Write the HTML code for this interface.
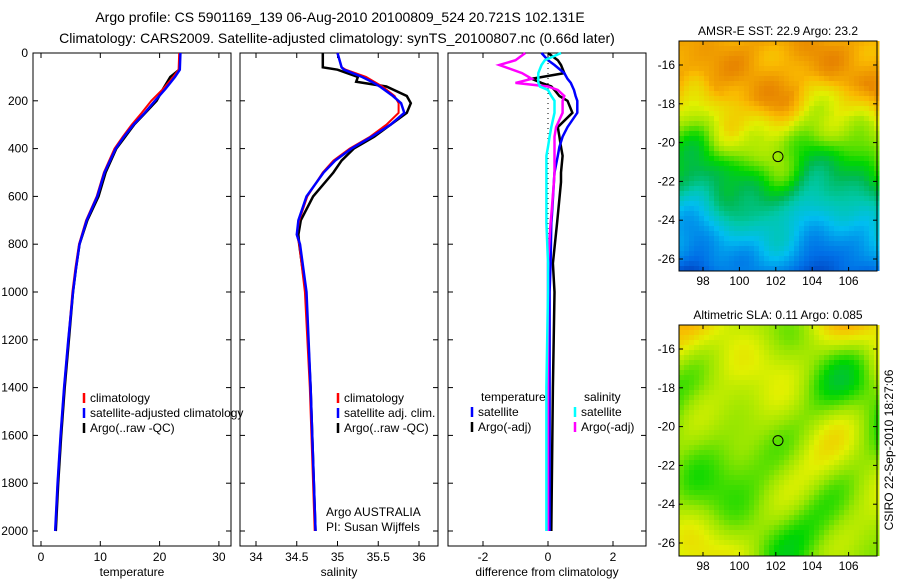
<!DOCTYPE html>
<html><head><meta charset="utf-8"><style>
body{margin:0;background:#fff;width:900px;height:580px;overflow:hidden;font-family:"Liberation Sans",sans-serif}
svg text{font-family:"Liberation Sans",sans-serif;font-size:12px;fill:#000}
</style></head><body>
<svg id="s" width="900" height="580">
<text x="340" y="22" text-anchor="middle" style="font-size:14px">Argo profile: CS 5901169_139 06-Aug-2010 20100809_524 20.721S 102.131E</text>
<text x="337" y="43" text-anchor="middle" style="font-size:14px">Climatology: CARS2009. Satellite-adjusted climatology: synTS_20100807.nc (0.66d later)</text>
<text x="778" y="35" text-anchor="middle">AMSR-E SST: 22.9  Argo: 23.2</text>
<text x="778" y="319" text-anchor="middle">Altimetric SLA: 0.11  Argo: 0.085</text>
<text transform="translate(893,450) rotate(-90)" text-anchor="middle">CSIRO 22-Sep-2010 18:27:06</text>
<g id="g"></g>
</svg>
<script>
const depthT=[0,70,100,150,200,250,300,350,400,500,600,700,800,900,1000,1200,1400,1600,1800,2000];
const tempClim=[23.3,23.2,22.3,20.6,18.6,17,15.3,13.8,12.4,10.6,9.4,7.6,6.4,5.8,5.3,4.6,3.9,3.3,2.8,2.4];
const tempSat=[23.5,23.4,22.6,21,19.2,17.5,15.6,14,12.6,10.7,9.5,7.7,6.5,5.9,5.4,4.6,3.9,3.3,2.8,2.4];
const tempArgo=[23.4,23.3,21.8,20.6,19.5,17.6,15.7,14.2,12.7,10.9,9.7,7.8,6.5,5.9,5.4,4.7,4.0,3.4,2.9,2.5];
const depthS=[0,60,70,100,120,140,180,210,250,300,350,400,450,500,600,700,760,800,1000,1400,2000];
const salClim=[35.0,35.05,35.1,35.35,35.45,35.55,35.7,35.75,35.75,35.6,35.4,35.15,34.95,34.82,34.63,34.53,34.5,34.53,34.6,34.66,34.72];
const salSat=[35.0,35.05,35.08,35.3,35.42,35.52,35.68,35.78,35.82,35.65,35.42,35.17,34.97,34.83,34.62,34.52,34.5,34.54,34.62,34.67,34.73];
const salArgo=[34.82,34.82,35.0,35.25,35.23,35.6,35.85,35.9,35.85,35.65,35.45,35.2,35.05,34.95,34.7,34.55,34.52,34.53,34.61,34.67,34.73];
const dDepth=[0,30,50,84,108,125,140,155,180,200,250,310,350,393,430,500,540,680,710,880,1000,1400,2000];
const dTempSat=[-0.2,0.0,0.2,0.5,0.6,0.7,0.75,0.8,0.85,0.9,0.9,0.6,0.45,0.35,0.3,0.2,0.18,0.12,0.1,0.08,0.05,0.05,0.05];
const dTempArgo=[0.0,0.3,0.4,0.5,-0.5,-0.2,0.1,0.2,0.35,0.6,0.75,0.3,0.35,0.4,0.45,0.4,0.4,0.3,0.28,0.15,0.2,0.15,0.1];
const dSalArgo=[-0.7,-1.0,-1.5,-0.8,-0.5,-1.0,0.0,0.3,0.5,0.45,0.45,0.25,0.2,0.2,0.2,0.2,0.18,0.1,0.08,0.0,0.0,0.0,0.0];
const dSalSat=[0.4,-0.1,-0.2,-0.3,-0.3,-0.3,-0.25,0.0,0.1,0.2,0.2,0.1,0.05,0.0,-0.05,-0.05,-0.05,-0.05,-0.05,0.0,0.0,-0.05,-0.05];
const depthTicks=[0,200,400,600,800,1000,1200,1400,1600,1800,2000];
const tTicks=[0,10,20,30], sTicks=[34,34.5,35,35.5,36], dTicks=[-2,0,2];
const latTicks=[-16,-18,-20,-22,-24,-26], lonTicks=[98,100,102,104,106];

const NS='http://www.w3.org/2000/svg', G=document.getElementById('g');
function el(t,a,p){const e=document.createElementNS(NS,t);for(const k in a)e.setAttribute(k,a[k]);(p||G).appendChild(e);return e;}
const yD=d=>53+d*(531-53)/2000;
const panels=[
 {x0:33,x1:231,xs:v=>41+(v-0)*5.93,ticks:tTicks,label:'temperature',name:'temperature'},
 {x0:240,x1:438,xs:v=>256+(v-34)*81.5,ticks:sTicks,label:'salinity',name:'salinity'},
 {x0:448,x1:646,xs:v=>548+v*32.5,ticks:dTicks,label:'difference from climatology',name:'difference'}];
panels.forEach((p,i)=>{
 const r=el('rect',{x:p.x0,y:53,width:p.x1-p.x0,height:493,fill:'none',stroke:'#000'});
 
 depthTicks.forEach(d=>{const y=yD(d);el('line',{x1:p.x0,x2:p.x0+5,y1:y,y2:y,stroke:'#000'});el('line',{x1:p.x1-5,x2:p.x1,y1:y,y2:y,stroke:'#000'});
  if(i==0){const t=el('text',{x:28,y:y+4,'text-anchor':'end'});t.textContent=d;}});
 p.ticks.forEach(v=>{const x=p.xs(v);el('line',{x1:x,x2:x,y1:546,y2:541,stroke:'#000'});el('line',{x1:x,x2:x,y1:53,y2:58,stroke:'#000'});
  const t=el('text',{x:x,y:561,'text-anchor':'middle'});t.textContent=v;});
 const t=el('text',{x:(p.x0+p.x1)/2,y:576,'text-anchor':'middle'});t.textContent=p.label;
 
});
function line(p,depths,vals,col,w,name,dash){
 const pts=depths.map((d,i)=>p.xs(vals[i]).toFixed(1)+','+yD(d).toFixed(1)).join(' ');
 const a={points:pts,fill:'none',stroke:col,'stroke-width':w};if(dash)a['stroke-dasharray']=dash;
 const e=el('polyline',a);
}
const P=panels;
line(P[0],depthT,tempArgo,'#000',2.5,'temp-argo-line');
line(P[0],depthT,tempClim,'#f00',2,'temp-clim-line');
line(P[0],depthT,tempSat,'#00f',2.5,'temp-sat-line');
line(P[1],depthS,salArgo,'#000',2.5,'sal-argo-line');
line(P[1],depthS,salClim,'#f00',2,'sal-clim-line');
line(P[1],depthS,salSat,'#00f',2.5,'sal-sat-line');
line(P[2],[0,2000],[0,0],'#000',1,'zero-line','1,4');
line(P[2],dDepth,dTempArgo,'#000',2.5,'dtemp-argo-line');
line(P[2],dDepth,dTempSat,'#00f',2.5,'dtemp-sat-line');
line(P[2],dDepth,dSalArgo,'#f0f',2.5,'dsal-argo-line');
line(P[2],dDepth,dSalSat,'#0ff',2.5,'dsal-sat-line');
function leg(x,y,col,txt,name){if(col){el('line',{x1:x,x2:x,y1:y-9,y2:y+1,stroke:col,'stroke-width':2.5});}
 const t=el('text',{x:x+6,y:y});t.textContent=txt;}
leg(84,402,'#f00','climatology','legend-climatology');leg(84,417,'#00f','satellite-adjusted climatology','legend-satellite-adjusted');leg(84,432,'#000','Argo(..raw -QC)','legend-argo');
leg(338,402,'#f00','climatology','legend2-climatology');leg(338,417,'#00f','satellite adj. clim.','legend2-satellite');leg(338,432,'#000','Argo(..raw -QC)','legend2-argo');
leg(475,401,null,'temperature','legend3-temp-header');leg(578,401,null,'salinity','legend3-sal-header');
leg(472,416,'#00f','satellite','legend3-temp-sat');leg(472,431,'#000','Argo(-adj)','legend3-temp-argo');
leg(575,416,'#0ff','satellite','legend3-sal-sat');leg(575,431,'#f0f','Argo(-adj)','legend3-sal-argo');
const a1=el('text',{x:326,y:516});a1.textContent='Argo AUSTRALIA';
const a2=el('text',{x:326,y:531});a2.textContent='PI: Susan Wijffels';
const stops=[[0,[0,30,160]],[0.15,[0,110,230]],[0.3,[0,190,240]],[0.42,[0,200,170]],[0.52,[0,185,80]],[0.6,[0,215,0]],[0.7,[150,230,0]],[0.78,[225,240,0]],[0.88,[250,185,0]],[1,[225,115,0]]];
function cmap(v){v=Math.max(0,Math.min(1,v));for(let i=1;i<stops.length;i++){if(v<=stops[i][0]){const a=stops[i-1],b=stops[i],f=(v-a[0])/(b[0]-a[0]);const c=a[1].map((q,k)=>Math.round(q+(b[1][k]-q)*f));return `rgb(${c})`;}}return 'rgb(225,115,0)';}
function nz(x,y,s){return Math.sin(x*0.07+s)*Math.cos(y*0.08+s*2)+0.6*Math.sin(x*0.05-y*0.09+s*1.7)+0.4*Math.cos(x*0.13+y*0.11+s*3);}
function map(y0,y1,latA,latB,f,name){
 const x0=679,x1=877,g=el('g',{});
 const bs=5;
 for(let y=y0;y<y1;y+=bs)for(let x=x0;x<x1;x+=bs){el('rect',{x:x,y:y,width:bs+0.5,height:Math.min(bs+0.5,y1-y),fill:cmap(f(x-x0,(y-y0)/(y1-y0),y-y0))},g);}
 el('rect',{x:x0,y:y0,width:x1-x0,height:y1-y0,fill:'none',stroke:'#000'});
 latTicks.forEach(l=>{const y=latA+(l+16)/(-10)*(latB-latA);el('line',{x1:x0,x2:x0+4,y1:y,y2:y,stroke:'#000'});el('line',{x1:x1-4,x2:x1,y1:y,y2:y,stroke:'#000'});
  const t=el('text',{x:x0-4,y:y+4,'text-anchor':'end'});t.textContent=l;});
 lonTicks.forEach(l=>{const x=703+(l-98)*18.2;el('line',{x1:x,x2:x,y1:y1,y2:y1-4,stroke:'#000'});el('line',{x1:x,x2:x,y1:y0,y2:y0+4,stroke:'#000'});
  const t=el('text',{x:x,y:y1+14,'text-anchor':'middle'});t.textContent=l;});
 const c=el('circle',{cx:778,cy:latA+(4.721/10)*(latB-latA),r:5,fill:'none',stroke:'#000'});
}
map(41,271,65,259,(x,t,y)=>{const w=0.07*Math.sin(x*0.045+1.2)+0.03*Math.sin(x*0.11);const tt=t+w;
 const base=tt<0.2?0.92:tt<0.35?0.92-(tt-0.2)*1.0:tt<0.6?0.76-(tt-0.35)*0.85:tt<0.75?0.55-(tt-0.6)*1.2:0.37-(tt-0.75)*0.9;
 return base+0.03*nz(x,y,1);},'sst-map');
map(325,556,349,543,(x,t,y)=>0.7+0.08*(Math.sin(x*0.045+0.5)*Math.cos(y*0.05+1)+0.7*Math.sin(x*0.03-y*0.035+2)+0.4*Math.cos(x*0.08+y*0.06))+0.08*Math.max(0,0.25-t)*4,'sla-map');
</script>
</body></html>
